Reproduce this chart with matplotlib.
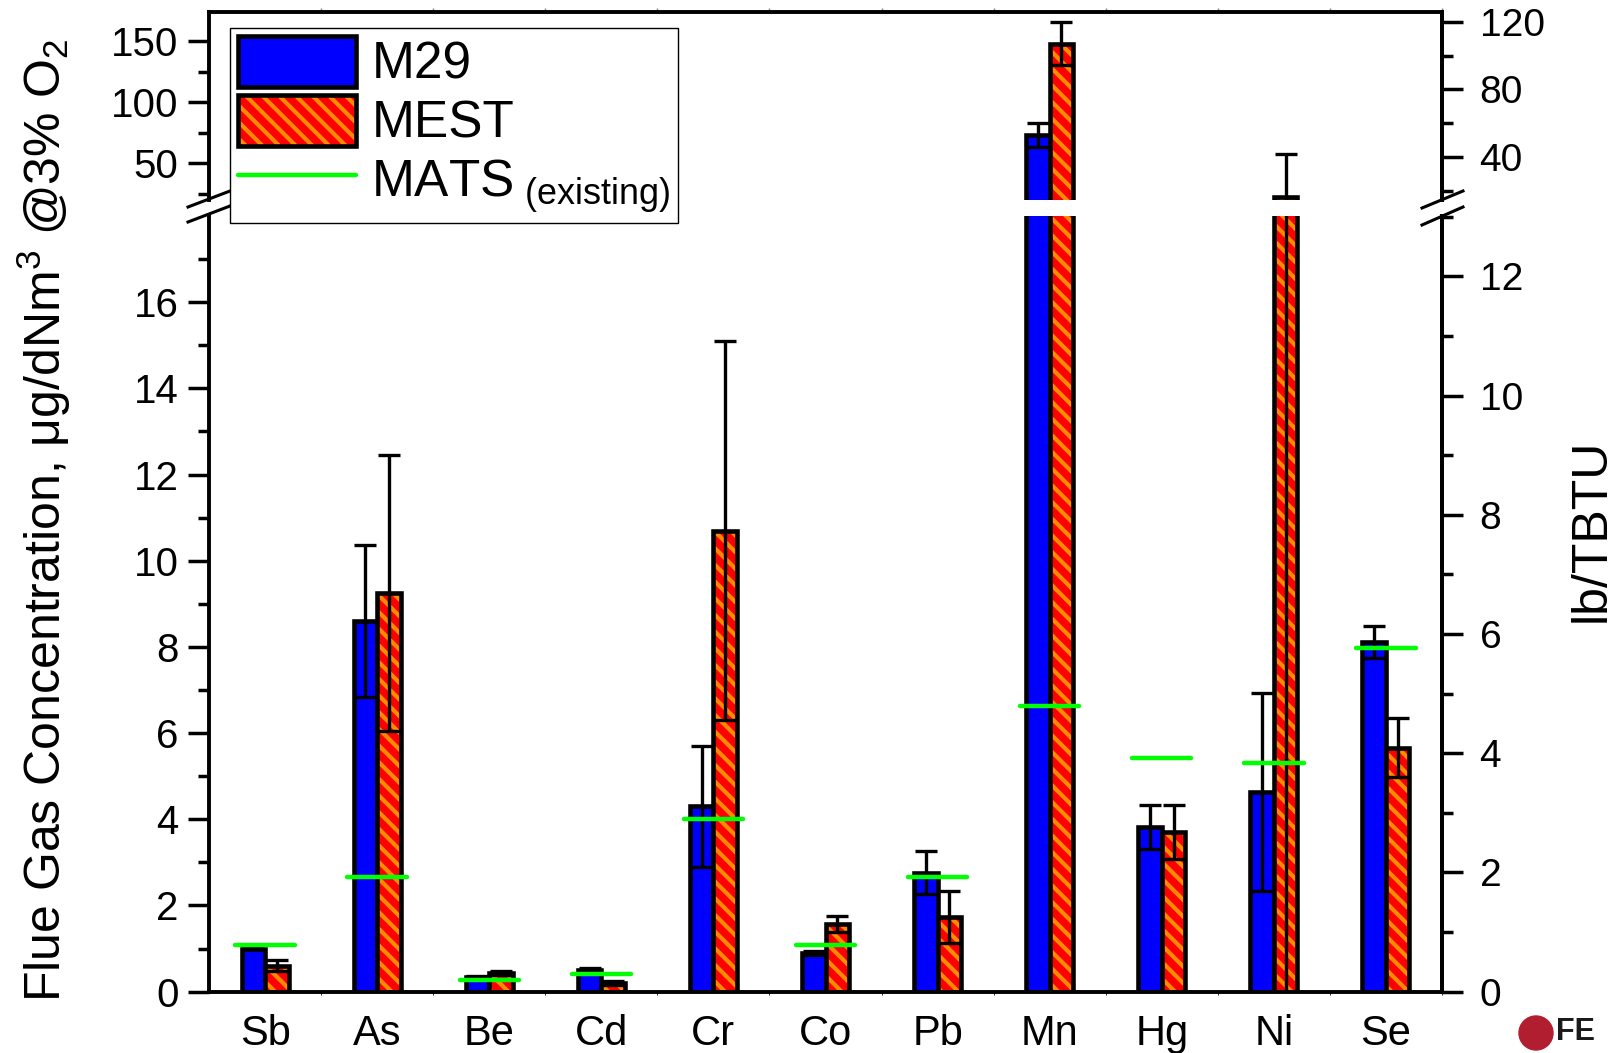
import numpy as np
import matplotlib
matplotlib.use("Agg")
import matplotlib.pyplot as plt
from matplotlib.lines import Line2D
from matplotlib.patches import Patch, Ellipse
from matplotlib.legend_handler import HandlerTuple

plt.rcParams['font.family'] = ['Liberation Sans', 'DejaVu Sans']
plt.rcParams['mathtext.fontset'] = 'custom'
plt.rcParams['mathtext.rm'] = 'Liberation Sans'
plt.rcParams['mathtext.it'] = 'Liberation Sans:italic'
plt.rcParams['hatch.linewidth'] = 3.0

# data (ug/dNm3 @3% O2)
elements = ["Sb", "As", "Be", "Cd", "Cr", "Co", "Pb", "Mn", "Hg", "Ni", "Se"]
m29 = [1.0, 8.6, 0.33, 0.5, 4.3, 0.9, 2.76, 73.3, 3.82, 4.64, 8.12]
m29_err = [0.02, 1.77, 0.04, 0.05, 1.4, 0.04, 0.5, 9.5, 0.52, 2.3, 0.37]
mest = [0.6, 9.25, 0.43, 0.2, 10.7, 1.57, 1.73, 147.8, 3.70, 22.8, 5.66]
mest_err = [0.13, 3.2, 0.05, 0.04, 4.4, 0.18, 0.6, 17.6, 0.62, 34.7, 0.68]
mats = [1.08, 2.65, 0.27, 0.41, 4.0, 1.08, 2.65, 6.63, 5.42, 5.31, 7.98]

k = 0.723  # lb/TBTU per ug/dNm3
blue = "#0000FF"
red = "#FF0000"
orange = "#FF8C00"
green = "#00FF00"

W, H = 1623, 1053
fig = plt.figure(figsize=(W / 100, H / 100), dpi=100)
L, R = 209 / W, 1442 / W
ax_lo = fig.add_axes([L, 1 - 991.6 / H, R - L, (991.6 - 216) / H])
ax_hi = fig.add_axes([L, 1 - 200 / H, R - L, (200 - 11.7) / H], sharex=ax_lo)

x = np.arange(len(elements))
bw = 0.21

for ax in (ax_lo, ax_hi):
    ax.bar(x - bw / 2, m29, bw, color=blue, edgecolor="k", linewidth=3.3, zorder=2)
    ax.bar(x + bw / 2, mest, bw, color=red, edgecolor=orange, hatch="\\\\", linewidth=0, zorder=2)
    ax.bar(x + bw / 2, mest, bw, fill=False, edgecolor="k", linewidth=3.3, zorder=2.1)
    ax.errorbar(x - bw / 2, m29, yerr=m29_err, fmt="none", ecolor="k", elinewidth=2.4,
                capsize=8, capthick=2.4, zorder=3)
    ax.errorbar(x + bw / 2, mest, yerr=mest_err, fmt="none", ecolor="k", elinewidth=2.4,
                capsize=8, capthick=2.4, zorder=3)
    ax.hlines(mats, x - 0.265, x + 0.265, color=green, linewidth=3.2, zorder=4,
              capstyle="round")
    ax.set_xlim(-0.5, 10.5)
    for s in ("left", "right", "top", "bottom"):
        ax.spines[s].set_linewidth(2.8)
    ax.tick_params(axis="y", which="major", length=15, width=2.5, labelsize=29, pad=7)
    ax.tick_params(axis="y", which="minor", length=8, width=2.5)

ax_lo.set_ylim(0, 18.0)
ax_hi.set_ylim(20, 174.2)
ax_lo.set_yticks(np.arange(0, 17, 2))
ax_lo.set_yticks(np.arange(1, 18, 2), minor=True)
ax_hi.set_yticks([50, 100, 150])
ax_hi.set_yticks([25, 75, 125], minor=True)

ax_lo.spines["top"].set_visible(False)
ax_hi.spines["bottom"].set_visible(False)
ax_lo.set_xticks(x)
ax_lo.set_xticklabels(elements)
ax_lo.tick_params(axis="x", length=0, labelsize=30, pad=16)
ax_hi.tick_params(axis="x", which="both", bottom=False, labelbottom=False)
ax_hi.set_xticks(np.arange(0, 10.6, 0.5), minor=True)
ax_hi.tick_params(axis="x", which="minor", top=True, length=3, width=1, color="0.5")

# right axis in lb/TBTU
for ax, (lo, hi), maj, mnr in ((ax_lo, (0, 18.0), np.arange(0, 13, 2), np.arange(1, 14, 2)),
                               (ax_hi, (20, 174.2), [40, 80, 120], [20, 60, 100])):
    tw = ax.twinx()
    tw.set_ylim(lo * k, hi * k)
    tw.set_yticks(maj)
    tw.set_yticks(mnr, minor=True)
    tw.spines["right"].set_linewidth(2.8)
    for s in ("left", "top", "bottom"):
        tw.spines[s].set_visible(False)
    tw.tick_params(axis="y", which="major", length=15, width=2.5, labelsize=28, pad=12)
    tw.tick_params(axis="y", which="minor", length=8, width=2.5)

# axis break marks
for (x0, y0, x1, y1) in [(188, 207, 230, 191), (188, 222, 230, 206),
                         (1422, 208, 1463, 191), (1422, 225, 1463, 207)]:
    fig.add_artist(Line2D([x0 / W, x1 / W], [1 - y0 / H, 1 - y1 / H],
                          transform=fig.transFigure, color="k", lw=2.2))

fig.text(44 / W, 1 - 520 / H,
         r"Flue Gas Concentration, μg/dNm$^{\mathregular{3}}$ @3% O$_{\mathregular{2}}$",
         rotation=90, fontsize=36, ha="center", va="center")
fig.text(1592 / W, 1 - 530 / H, "lb/TBTU", rotation=90, fontsize=36,
         ha="center", va="center")

handles = [
    Patch(facecolor=blue, edgecolor="k", linewidth=3.3),
    (Patch(facecolor=red, edgecolor=orange, hatch="\\\\", linewidth=0),
     Patch(fill=False, edgecolor="k", linewidth=3.3)),
    Line2D([], [], color=green, linewidth=3.2, solid_capstyle="round"),
]
labels = ["M29", "MEST", r"MATS$_{\mathregular{\ (existing)}}$"]
leg = fig.legend(handles, labels, loc="upper left", bbox_to_anchor=(230 / W, 1 - 28 / H),
                 borderaxespad=0, fontsize=37, handlelength=2.3, handleheight=1.15,
                 labelspacing=0.1, borderpad=0.15, handletextpad=0.3,
                 fancybox=False, framealpha=1, edgecolor="k",
                 handler_map={tuple: HandlerTuple(ndivide=1, pad=0)})
leg.get_frame().set_linewidth(1.0)

# partial logo at the corner
fig.add_artist(Ellipse((1536 / W, 1 - 1033 / H), 34 / W, 34 / H,
                       transform=fig.transFigure, color="#B01E2F"))
fig.text(1556 / W, 1 - 1017 / H, "FE", fontsize=22, fontweight="bold",
         color="#1A1A1A", va="top", ha="left")

fig.savefig("out.png", dpi=100)
